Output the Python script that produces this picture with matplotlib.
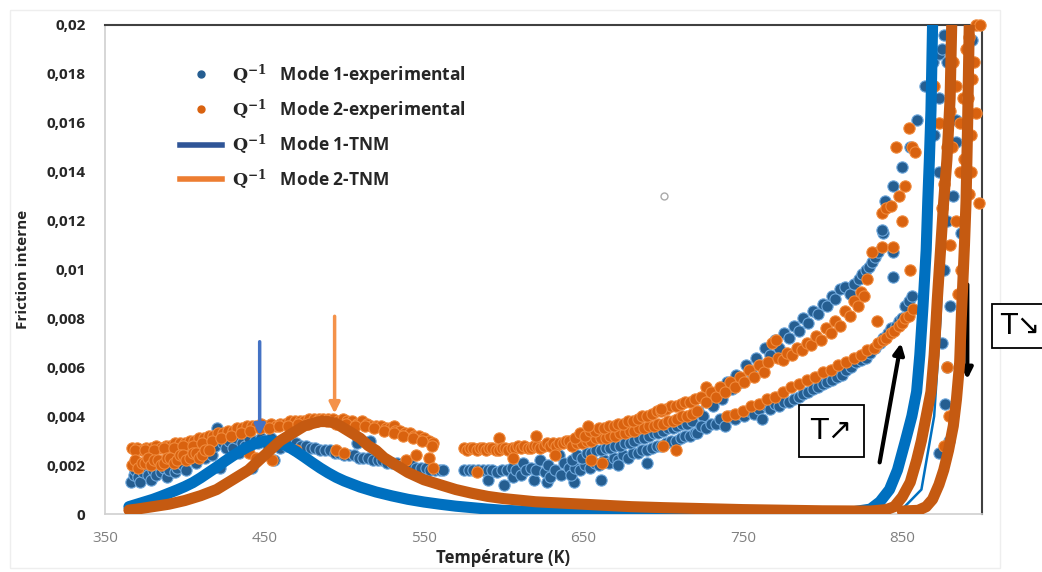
import matplotlib
matplotlib.use("Agg")
import matplotlib.pyplot as plt
from matplotlib.lines import Line2D

# ---- data (T in K, Q^-1) ----
# Mode 1 experimental (blue dots), segment by segment
m1_heat_T = [366, 368, 369, 371, 372, 374, 375, 377, 379, 380, 382, 384, 385, 387, 389, 390, 392, 394, 395, 397,
             399, 401, 403, 405, 407, 409, 411, 413, 415, 417, 419, 420, 422, 424, 426, 428, 430, 432, 434, 436,
             438, 440, 442, 444, 446, 448, 450, 452, 454, 456, 458, 460, 462, 464, 466, 468]
m1_heat_Q = [0.0013, 0.0016, 0.0018, 0.0015, 0.0013, 0.0017, 0.0019, 0.0016, 0.0014, 0.0018, 0.0016, 0.0021,
             0.0017, 0.0019, 0.0015, 0.0018, 0.0022, 0.0017, 0.0019, 0.0024, 0.0020, 0.0018, 0.0023, 0.0026,
             0.0021, 0.0025, 0.0027, 0.0023, 0.0026, 0.0024, 0.0028, 0.0035, 0.0019, 0.0029, 0.0027, 0.0030,
             0.0027, 0.0031, 0.0025, 0.0029, 0.0028, 0.0031, 0.0019, 0.0030, 0.0029, 0.0031, 0.0030, 0.0028,
             0.0031, 0.0022, 0.0029, 0.0027, 0.0030, 0.0028, 0.0029, 0.0027]
m1_cool_T = [470, 473, 476, 479, 482, 485, 488, 491, 494, 497, 500, 503, 506, 508, 509, 512, 515, 516, 518, 521,
             524, 527, 530, 533, 536, 539, 542, 545, 548, 551, 554, 557, 560, 562]
m1_cool_Q = [0.0029, 0.0028, 0.0028, 0.0027, 0.0027, 0.0026, 0.0026, 0.0026, 0.0025, 0.0025, 0.0024, 0.0024,
             0.0024, 0.0029, 0.0023, 0.0023, 0.0023, 0.0030, 0.0022, 0.0022, 0.0022, 0.0021, 0.0021, 0.0021,
             0.0020, 0.0020, 0.0020, 0.0019, 0.0019, 0.0019, 0.0018, 0.0018, 0.0018, 0.0018]
m1_flat_T = [575, 578, 581, 584, 587, 590, 590, 593, 596, 599, 600, 602, 605, 606, 608, 611, 612, 614, 617, 619,
             620, 623, 626, 627, 628, 629, 632, 635, 636, 638, 641, 644]
m1_flat_Q = [0.0018, 0.0018, 0.0018, 0.0018, 0.0018, 0.0018, 0.0014, 0.0018, 0.0017, 0.0018, 0.0012, 0.0018,
             0.0019, 0.0015, 0.0018, 0.0016, 0.0021, 0.0018, 0.0019, 0.0014, 0.0018, 0.0022, 0.0017, 0.0013,
             0.0020, 0.0015, 0.0018, 0.0024, 0.0016, 0.0021, 0.0019, 0.0013]
m1_mid_T = [642, 645, 648, 651, 654, 657, 660, 663, 666, 669, 672, 675, 678, 681, 684, 687, 690, 693, 696, 699,
            702, 705, 708, 711, 714, 717, 720,
            643, 646, 649, 652, 655, 658, 661, 664, 667, 670, 673, 676, 679, 682, 685, 688, 691, 694, 697, 700,
            703, 706, 709, 712, 715, 718, 661, 672, 690]
m1_mid_Q = [0.0016, 0.0019, 0.0018, 0.0020, 0.0019, 0.0021, 0.0020, 0.0022, 0.0021, 0.0023, 0.0022, 0.0024,
            0.0023, 0.0025, 0.0025, 0.0026, 0.0026, 0.0027, 0.0028, 0.0028, 0.0029, 0.0030, 0.0030, 0.0031,
            0.0032, 0.0032, 0.0033,
            0.0022, 0.0024, 0.0023, 0.0025, 0.0025, 0.0026, 0.0026, 0.0027, 0.0027, 0.0028, 0.0028, 0.0029,
            0.0029, 0.0030, 0.0031, 0.0031, 0.0032, 0.0033, 0.0033, 0.0034, 0.0035, 0.0035, 0.0036, 0.0037,
            0.0037, 0.0038, 0.0014, 0.0020, 0.0021]
m1_up_T = [722, 725, 728, 731, 734, 737, 740, 743, 746, 749, 752, 755, 758, 761, 764, 767, 770, 773, 776, 779,
           782, 785, 788, 791, 794, 797, 800, 803, 806, 808, 811, 814, 817, 820, 823, 825, 827, 829, 831, 833,
           835, 838, 839, 844, 850, 855, 859, 864, 869, 873, 876]
m1_up_Q = [0.0042, 0.0040, 0.0046, 0.0044, 0.0050, 0.0047, 0.0054, 0.0051, 0.0057, 0.0054, 0.0061, 0.0058,
           0.0064, 0.0061, 0.0068, 0.0065, 0.0071, 0.0068, 0.0074, 0.0072, 0.0077, 0.0075, 0.0080, 0.0078,
           0.0083, 0.0082, 0.0086, 0.0085, 0.0089, 0.0088, 0.0092, 0.0093, 0.0090, 0.0094, 0.0096, 0.0098,
           0.0100, 0.0101, 0.0103, 0.0105, 0.0107, 0.0115, 0.0128, 0.0134, 0.0142, 0.0150, 0.0161, 0.0175,
           0.0185, 0.0188, 0.0196]
m1_low_T = [721, 724, 727, 730, 733, 736, 739, 742, 745, 748, 751, 754, 757, 760, 762, 765, 767, 770, 773, 776,
            779, 782, 785, 788, 791, 794, 797, 800, 803, 806, 809, 812, 815, 818, 821, 824, 827, 830, 833, 836,
            838, 841, 843, 846, 848, 850, 852, 854, 856, 837, 844, 844]
m1_low_Q = [0.0033, 0.0036, 0.0035, 0.0037, 0.0037, 0.0039, 0.0036, 0.0040, 0.0039, 0.0041, 0.0040, 0.0042,
            0.0041, 0.0043, 0.0039, 0.0044, 0.0043, 0.0045, 0.0044, 0.0046, 0.0046, 0.0047, 0.0048, 0.0049,
            0.0050, 0.0051, 0.0052, 0.0053, 0.0054, 0.0055, 0.0056, 0.0057, 0.0059, 0.0060, 0.0062, 0.0063,
            0.0064, 0.0066, 0.0068, 0.0070, 0.0072, 0.0074, 0.0076, 0.0077, 0.0079, 0.0080, 0.0085, 0.0087,
            0.0089, 0.0116, 0.0107, 0.0097]
m1_edge_T = [870, 873, 873, 875, 878, 884, 884, 887, 894, 878, 877, 879, 873, 876, 880, 882, 875, 878]
m1_edge_Q = [0.0155, 0.0170, 0.0140, 0.0190, 0.0185, 0.0161, 0.0152, 0.0115, 0.0194, 0.0060, 0.0045, 0.0030,
             0.0025, 0.0100, 0.0085, 0.0130, 0.0070, 0.0120]

# Mode 2 experimental (orange dots)
m2_heat_T = [367, 370, 373, 376, 379, 382, 385, 388, 391, 394, 397, 400, 403, 406, 409, 412, 415, 418, 421, 424,
             427, 430, 433, 436, 439, 442, 445, 448, 451, 454, 457, 460, 463, 466, 469, 472, 475, 478, 481, 484,
             487, 490, 493, 496, 499, 502, 505, 508, 511, 514, 517, 520, 523, 526, 529, 531, 532, 535, 538, 541,
             544, 547, 550, 553, 556,
             369, 375, 381, 387, 393, 399, 405, 411, 417, 423, 429, 435, 441, 447, 453, 459, 465, 471, 477, 483,
             489, 495, 501, 507, 513, 519, 525, 531, 537, 543, 549, 555]
m2_heat_Q = [0.0027, 0.0027, 0.0026, 0.0027, 0.0027, 0.0028, 0.0027, 0.0028, 0.0028, 0.0029, 0.0029, 0.0029,
             0.0030, 0.0030, 0.0031, 0.0031, 0.0032, 0.0032, 0.0033, 0.0033, 0.0034, 0.0034, 0.0035, 0.0035,
             0.0036, 0.0036, 0.0036, 0.0037, 0.0036, 0.0037, 0.0036, 0.0037, 0.0037, 0.0038, 0.0038, 0.0038,
             0.0038, 0.0039, 0.0039, 0.0039, 0.0039, 0.0039, 0.0039, 0.0038, 0.0039, 0.0038, 0.0038, 0.0037,
             0.0038, 0.0037, 0.0036, 0.0036, 0.0036, 0.0035, 0.0035, 0.0036, 0.0034, 0.0034, 0.0033, 0.0033,
             0.0032, 0.0032, 0.0031, 0.0030, 0.0029,
             0.0026, 0.0026, 0.0026, 0.0027, 0.0027, 0.0028, 0.0028, 0.0029, 0.0030, 0.0031, 0.0032, 0.0033,
             0.0034, 0.0035, 0.0035, 0.0036, 0.0036, 0.0037, 0.0037, 0.0038, 0.0038, 0.0037, 0.0037, 0.0036,
             0.0036, 0.0035, 0.0034, 0.0033, 0.0032, 0.0031, 0.0030, 0.0028]
m2_low_T = [367, 369, 371, 373, 375, 377, 379, 381, 383, 385, 387, 389, 391, 393, 395, 397, 399, 401, 403, 405,
            407, 409, 411, 413, 415, 440, 445, 455, 470, 495, 500, 539, 545, 553, 556, 583, 597]
m2_low_Q = [0.0020, 0.0022, 0.0019, 0.0021, 0.0021, 0.0023, 0.0020, 0.0022, 0.0022, 0.0020, 0.0021, 0.0023,
            0.0023, 0.0021, 0.0022, 0.0024, 0.0024, 0.0022, 0.0023, 0.0025, 0.0025, 0.0023, 0.0024, 0.0026,
            0.0026, 0.0025, 0.0023, 0.0022, 0.0026, 0.0026, 0.0025, 0.0022, 0.0024, 0.0023, 0.0019, 0.0017,
            0.0031]
m2_flat_T = [575, 577, 579, 581, 583, 585, 587, 589, 591, 593, 595, 597, 599, 601, 603, 605, 607, 609, 611, 613,
             615, 617, 619, 621, 623, 625, 627, 629, 631, 633, 635, 637, 639, 641, 606, 620, 632]
m2_flat_Q = [0.0027, 0.0026, 0.0027, 0.0027, 0.0026, 0.0027, 0.0027, 0.0026, 0.0027, 0.0027, 0.0026, 0.0026,
             0.0027, 0.0027, 0.0026, 0.0027, 0.0027, 0.0028, 0.0027, 0.0028, 0.0027, 0.0027, 0.0028, 0.0028,
             0.0027, 0.0028, 0.0029, 0.0028, 0.0029, 0.0028, 0.0029, 0.0029, 0.0030, 0.0030, 0.0023, 0.0032,
             0.0024]
m2_mid_T = [643, 646, 649, 652, 655, 658, 661, 664, 667, 670, 673, 676, 679, 682, 685, 688, 691, 694, 697, 700,
            703, 706, 709, 712, 715, 718, 721,
            645, 648, 651, 654, 657, 660, 663, 666, 669, 672, 675, 678, 681, 684, 687, 690, 693, 696, 699, 702,
            705, 708, 711, 714, 717, 720, 653, 655, 662, 699, 700, 708, 727]
m2_mid_Q = [0.0028, 0.0029, 0.0029, 0.0030, 0.0030, 0.0031, 0.0031, 0.0031, 0.0032, 0.0032, 0.0033, 0.0033,
            0.0034, 0.0034, 0.0035, 0.0035, 0.0036, 0.0036, 0.0037, 0.0037, 0.0038, 0.0038, 0.0039, 0.0040,
            0.0040, 0.0041, 0.0042,
            0.0031, 0.0033, 0.0032, 0.0034, 0.0034, 0.0035, 0.0035, 0.0036, 0.0036, 0.0037, 0.0037, 0.0038,
            0.0038, 0.0039, 0.0040, 0.0040, 0.0041, 0.0042, 0.0042, 0.0043, 0.0044, 0.0044, 0.0045, 0.0046,
            0.0046, 0.0047, 0.0036, 0.0022, 0.0021, 0.0043, 0.0028, 0.0026, 0.0052]
m2_up_T = [724, 727, 730, 733, 736, 739, 742, 745, 748, 751, 754, 757, 760, 763, 766, 768, 771, 772, 775, 778,
           781, 784, 787, 790, 793, 796, 799, 802, 805, 808, 811, 814, 817, 820, 822, 824, 826, 828, 831, 834,
           837, 837, 840, 843, 844, 846, 848, 850, 852, 854, 855, 856, 858]
m2_up_Q = [0.0048, 0.0046, 0.0050, 0.0048, 0.0052, 0.0050, 0.0054, 0.0052, 0.0056, 0.0054, 0.0059, 0.0056,
           0.0061, 0.0058, 0.0062, 0.0070, 0.0071, 0.0064, 0.0063, 0.0066, 0.0065, 0.0068, 0.0067, 0.0070,
           0.0069, 0.0073, 0.0071, 0.0076, 0.0074, 0.0079, 0.0077, 0.0083, 0.0081, 0.0087, 0.0085, 0.0091,
           0.0089, 0.0096, 0.0107, 0.0079, 0.0109, 0.0123, 0.0125, 0.0126, 0.0109, 0.0150, 0.0130, 0.0120,
           0.0134, 0.0158, 0.0100, 0.0150, 0.0148]
m2_rise_T = [740, 745, 750, 755, 760, 765, 770, 775, 780, 785, 790, 795, 800, 805, 810, 815, 820, 824, 828, 832,
             835, 838, 840, 843, 845, 848, 850, 852, 854, 857]
m2_rise_Q = [0.0040, 0.0041, 0.0042, 0.0044, 0.0045, 0.0047, 0.0048, 0.0050, 0.0052, 0.0053, 0.0055, 0.0056,
             0.0058, 0.0059, 0.0061, 0.0062, 0.0064, 0.0065, 0.0067, 0.0068, 0.0070, 0.0071, 0.0072, 0.0074,
             0.0075, 0.0077, 0.0078, 0.0080, 0.0081, 0.0084]
m2_edge_T = [870, 873, 876, 878, 880, 882, 884, 886, 888, 890, 892, 893, 894, 896, 898, 896, 899, 875, 880, 892,
             878, 879, 876, 886, 889, 884, 891, 895, 887, 893, 885, 881]
m2_edge_Q = [0.0175, 0.0160, 0.0135, 0.0150, 0.0165, 0.0185, 0.0175, 0.0160, 0.0170, 0.0190, 0.0195, 0.0155,
             0.0178, 0.0164, 0.0127, 0.0200, 0.0200, 0.0125, 0.0110, 0.0131, 0.0060, 0.0040, 0.0028, 0.0140,
             0.0145, 0.0120, 0.0170, 0.0185, 0.0100, 0.0140, 0.0090, 0.0150]

# Mode 1 TNM model (blue curve) and its thin cooling branch
m1_tnm_T = [365, 370, 375, 380, 385, 390, 395, 400, 405, 410, 415, 420, 425, 430, 435, 440, 445, 450, 455, 460,
            465, 470, 475, 480, 485, 490, 495, 500, 510, 520, 530, 540, 550, 560, 570, 580, 590, 600, 620, 650,
            700, 750, 800, 820, 830, 836, 842, 847, 852, 856, 859, 861, 863, 865, 866, 867, 868, 869]
m1_tnm_Q = [0.00030, 0.00040, 0.00050, 0.00060, 0.00072, 0.00085, 0.00098, 0.00112, 0.00128, 0.00148, 0.00170,
            0.00192, 0.00215, 0.00237, 0.00258, 0.00276, 0.00290, 0.00298, 0.00298, 0.00290, 0.00275, 0.00255,
            0.00233, 0.00210, 0.00188, 0.00168, 0.00150, 0.00135, 0.00110, 0.00090, 0.00074, 0.00060, 0.00049,
            0.00040, 0.00032, 0.00026, 0.00020, 0.00015, 0.00010, 0.00006, 0.00003, 0.00002, 0.00004, 0.00010,
            0.00020, 0.00050, 0.00100, 0.00180, 0.00300, 0.00400, 0.00500, 0.00650, 0.00850, 0.01080, 0.01280,
            0.01450, 0.01650, 0.02000]
m1_back_T = [850, 862, 870, 874, 877, 879]
m1_back_Q = [0.0002, 0.0010, 0.0040, 0.0080, 0.0130, 0.0200]

# Mode 2 TNM model (orange curve) and its second rising branch
m2_tnm_T = [365, 370, 380, 390, 400, 410, 420, 430, 440, 445, 450, 455, 460, 465, 470, 475, 480, 485, 490, 495,
            500, 505, 510, 515, 520, 525, 530, 540, 550, 560, 570, 580, 590, 600, 620, 650, 680, 700, 750, 800,
            830, 840, 845, 850, 855, 859, 862, 865, 868, 870, 872, 874, 876, 878, 880, 881]
m2_tnm_Q = [0.00016, 0.00020, 0.00030, 0.00040, 0.00055, 0.00075, 0.00100, 0.00140, 0.00180, 0.00210, 0.00240,
            0.00270, 0.00300, 0.00320, 0.00340, 0.00360, 0.00370, 0.00378, 0.00378, 0.00370, 0.00350, 0.00330,
            0.00310, 0.00280, 0.00260, 0.00230, 0.00210, 0.00170, 0.00140, 0.00120, 0.00100, 0.00085, 0.00072,
            0.00063, 0.00050, 0.00040, 0.00030, 0.00026, 0.00018, 0.00013, 0.00012, 0.00018, 0.00030, 0.00070,
            0.00130, 0.00220, 0.00300, 0.00400, 0.00500, 0.00650, 0.00880, 0.01080, 0.01280, 0.01450, 0.01700,
            0.02000]
m2_back_T = [850, 860, 865, 869, 873, 876, 879, 882, 884, 886, 887, 888, 889, 890, 891, 892]
m2_back_Q = [0.00012, 0.00015, 0.0003, 0.0006, 0.0012, 0.0018, 0.0026, 0.0036, 0.0047, 0.0062, 0.0080, 0.0095,
             0.0110, 0.0128, 0.0160, 0.0200]

stray_T = [700.7]
stray_Q = [0.0130]

xticks = [350, 450, 550, 650, 750, 850]
yticks = [0, 0.002, 0.004, 0.006, 0.008, 0.01, 0.012, 0.014, 0.016, 0.018, 0.02]

m1_exp_T = m1_heat_T + m1_cool_T + m1_flat_T + m1_mid_T + m1_up_T + m1_low_T + m1_edge_T
m1_exp_Q = m1_heat_Q + m1_cool_Q + m1_flat_Q + m1_mid_Q + m1_up_Q + m1_low_Q + m1_edge_Q
m2_exp_T = m2_heat_T + m2_low_T + m2_flat_T + m2_mid_T + m2_up_T + m2_rise_T + m2_edge_T
m2_exp_Q = m2_heat_Q + m2_low_Q + m2_flat_Q + m2_mid_Q + m2_up_Q + m2_rise_Q + m2_edge_Q

# ---- figure ----
plt.rcParams['font.family'] = ['Open Sans', 'DejaVu Sans']
plt.rcParams['mathtext.fontset'] = 'dejavuserif'

fig = plt.figure(figsize=(10.42, 5.72), dpi=100)
fig.patch.set_facecolor('white')
fig.add_artist(plt.Rectangle((10 / 1042, 4 / 572), 990 / 1042, 558 / 572, transform=fig.transFigure,
                             fill=False, edgecolor='#EEEEEE', lw=1))
ax = fig.add_axes([105 / 1042, 1 - 514 / 572, 877 / 1042, 489 / 572])

blue_dot = '#255E91'
blue_edge = '#6FA8DC'
orange_dot = '#D9620F'
orange_edge = '#F08A3C'
blue_line = '#0070C0'
orange_line = '#C55A11'

ax.scatter(m1_exp_T, m1_exp_Q, s=66, color=blue_dot, edgecolors=blue_edge, linewidths=0.8, zorder=2,
           clip_on=False)
ax.scatter(m2_exp_T, m2_exp_Q, s=66, color=orange_dot, edgecolors=orange_edge, linewidths=0.8, zorder=3,
           clip_on=False)
ax.plot(m1_tnm_T, m1_tnm_Q, color=blue_line, lw=8, solid_capstyle='round', solid_joinstyle='round', zorder=4)
ax.plot(m1_back_T, m1_back_Q, color=blue_line, lw=1.8, zorder=4)
ax.plot(m2_tnm_T, m2_tnm_Q, color=orange_line, lw=8, solid_capstyle='round', solid_joinstyle='round', zorder=5)
ax.plot(m2_back_T, m2_back_Q, color=orange_line, lw=8, solid_capstyle='round', solid_joinstyle='round', zorder=5)
ax.plot(stray_T, stray_Q, 'o', mfc='none', mec='#AAAAAA', ms=5, mew=1, zorder=2)

ax.set_xlim(350, 900)
ax.set_ylim(0, 0.02)
ax.set_xticks(xticks)
ax.set_xticklabels([str(t) for t in xticks], color='#808080', fontsize=11)
ax.set_yticks(yticks)
ax.set_yticklabels([('%g' % t).replace('.', ',') for t in yticks], color='#262626', fontsize=11,
                   fontweight='bold')
ax.tick_params(length=0)
ax.tick_params(axis='y', pad=14)
ax.tick_params(axis='x', pad=12)

for side in ['left', 'bottom']:
    ax.spines[side].set_color('#D0D0D0')
    ax.spines[side].set_linewidth(1.2)
for side in ['top', 'right']:
    ax.spines[side].set_color('#404040')
    ax.spines[side].set_linewidth(1.5)

ax.set_xlabel('Température (K)', fontsize=12, fontweight='bold', color='#262626')
ax.set_ylabel('Friction interne', fontsize=11, fontweight='bold', color='#262626')
ax.xaxis.set_label_coords(0.454, -0.072)
ax.yaxis.set_label_coords(-0.085, 0.5)

handles = [Line2D([], [], ls='none', marker='o', ms=5, color=blue_dot),
           Line2D([], [], ls='none', marker='o', ms=5, color=orange_dot),
           Line2D([], [], color='#2F5597', lw=4),
           Line2D([], [], color='#ED7D31', lw=4)]
labels = [r'$\mathbf{Q^{-1}}$   Mode 1-experimental', r'$\mathbf{Q^{-1}}$   Mode 2-experimental',
          r'$\mathbf{Q^{-1}}$   Mode 1-TNM', r'$\mathbf{Q^{-1}}$   Mode 2-TNM']
leg = ax.legend(handles, labels, loc='upper left', bbox_to_anchor=(0.068, 0.957), frameon=False,
                fontsize=12.5, handlelength=2.4, labelspacing=0.55, handletextpad=0.6)
for t in leg.get_texts():
    t.set_fontweight('bold')
    t.set_color('#262626')

# peak markers
ax.annotate('', xy=(447, 0.0031), xytext=(447, 0.00716),
            arrowprops=dict(arrowstyle='-|>', color='#4472C4', lw=2.5, mutation_scale=16))
ax.annotate('', xy=(494, 0.0040), xytext=(494, 0.0082),
            arrowprops=dict(arrowstyle='-|>', color='#F4924A', lw=2.5, mutation_scale=16))

# heating / cooling arrows
ax.annotate('', xy=(849.5, 0.0071), xytext=(835.5, 0.0020),
            arrowprops=dict(arrowstyle='-|>', color='black', lw=3, mutation_scale=16))
ax.annotate('', xy=(890.8, 0.0054), xytext=(890.8, 0.0095),
            arrowprops=dict(arrowstyle='-|>', color='black', lw=3, mutation_scale=16))

ax.text(805.5, 0.0034, 'T↗', ha='center', va='center', fontsize=21, family=['DejaVu Sans'],
        bbox=dict(boxstyle='square,pad=0.4', fc='white', ec='black', lw=1.3), zorder=6)
fig.text(1000 / 1042, 1 - 326 / 572, 'T↘', ha='left', va='center', fontsize=20, family=['DejaVu Sans'],
         bbox=dict(boxstyle='square,pad=0.3', fc='white', ec='black', lw=1.3))

fig.savefig('out.png', dpi=100, facecolor='white')
